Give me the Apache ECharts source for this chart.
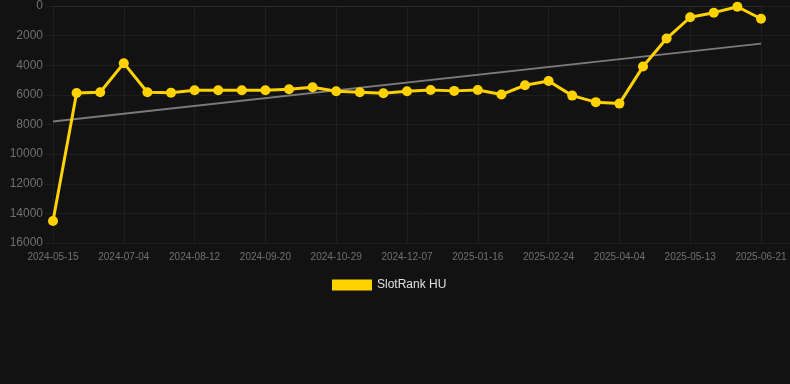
<!DOCTYPE html>
<html>
<head>
<meta charset="utf-8">
<script src="https://cdn.jsdelivr.net/npm/echarts@6/dist/echarts.min.js"></script>
<style>
html,body{margin:0;padding:0;background:#121212;}
#c{width:790px;height:384px;}
</style>
</head>
<body>
<div id="c"></div>
<script>
const categories = [
  '2024-05-15','2024-06-07','2024-06-21','2024-07-04','2024-07-17','2024-07-30',
  '2024-08-12','2024-08-25','2024-09-07','2024-09-20','2024-10-03','2024-10-16',
  '2024-10-29','2024-11-11','2024-11-24','2024-12-07','2024-12-20','2025-01-03',
  '2025-01-16','2025-01-29','2025-02-11','2025-02-24','2025-03-09','2025-03-22',
  '2025-04-04','2025-04-17','2025-04-30','2025-05-13','2025-05-26','2025-06-08',
  '2025-06-21'
];
const rankValues = [
  14520, 5870, 5820, 3860, 5820, 5850,
  5690, 5690, 5690, 5690, 5620, 5480,
  5750, 5820, 5890, 5750, 5670, 5730,
  5670, 5980, 5350, 5060, 6050, 6490,
  6590, 4090, 2200, 760, 450, 50,
  860
];
const trendStart = 7800;
const trendEnd = 2540;
const yTicks = [0, 2000, 4000, 6000, 8000, 10000, 12000, 14000, 16000];
const seriesName = 'SlotRank HU';

const chart = echarts.init(document.getElementById('c'), null, {renderer: 'canvas'});
const font = 'Liberation Sans, Arial, Helvetica, sans-serif';
chart.setOption({
  backgroundColor: '#121212',
  animation: false,
  textStyle: {fontFamily: font},
  legend: {
    data: [seriesName],
    top: 274,
    left: 327,
    itemWidth: 40,
    itemHeight: 11,
    itemGap: 10,
    icon: 'rect',
    textStyle: {color: '#e0e0e0', fontSize: 12, fontFamily: font}
  },
  grid: [
    {left: 53, right: 29, top: 6, bottom: 141, containLabel: false},
    {left: 45, right: 0, top: 6, bottom: 141, containLabel: false}
  ],
  xAxis: [
    {
      type: 'category',
      gridIndex: 0,
      data: categories,
      boundaryGap: false,
      axisLine: {show: true, lineStyle: {color: '#2c2c2c', width: 1}},
      axisTick: {show: true, interval: 2, length: 7, lineStyle: {color: '#222'}},
      axisLabel: {interval: 2, color: '#707070', fontSize: 10, margin: 9, fontFamily: font},
      splitLine: {show: true, interval: 2, lineStyle: {color: '#1e1e1e', width: 1}}
    },
    {
      type: 'value',
      gridIndex: 1,
      show: false,
      min: 0, max: 1
    }
  ],
  yAxis: [
    {
      type: 'value',
      gridIndex: 0,
      inverse: true,
      min: yTicks[0],
      max: yTicks[yTicks.length - 1],
      interval: yTicks[1] - yTicks[0],
      axisLine: {show: false},
      axisTick: {show: false},
      axisLabel: {color: '#707070', fontSize: 12, margin: 10, fontFamily: font,
        formatter: function (v) { return String(v); }},
      splitLine: {show: false}
    },
    {
      type: 'value',
      gridIndex: 1,
      inverse: true,
      min: yTicks[0],
      max: yTicks[yTicks.length - 1],
      interval: yTicks[1] - yTicks[0],
      axisLine: {show: false},
      axisTick: {show: false},
      axisLabel: {show: false},
      splitLine: {show: true, lineStyle: {color: '#1e1e1e', width: 1}}
    }
  ],
  series: [
    {
      name: 'trend',
      type: 'line',
      xAxisIndex: 0,
      yAxisIndex: 0,
      data: [[categories[0], trendStart], [categories[categories.length - 1], trendEnd]],
      symbol: 'none',
      lineStyle: {color: '#7a7a7a', width: 2},
      z: 2,
      silent: true
    },
    {
      name: seriesName,
      type: 'line',
      xAxisIndex: 0,
      yAxisIndex: 0,
      data: rankValues,
      symbol: 'circle',
      symbolSize: 10,
      itemStyle: {color: '#ffd200'},
      lineStyle: {color: '#ffd200', width: 3},
      z: 3
    }
  ]
});
</script>
</body>
</html>
